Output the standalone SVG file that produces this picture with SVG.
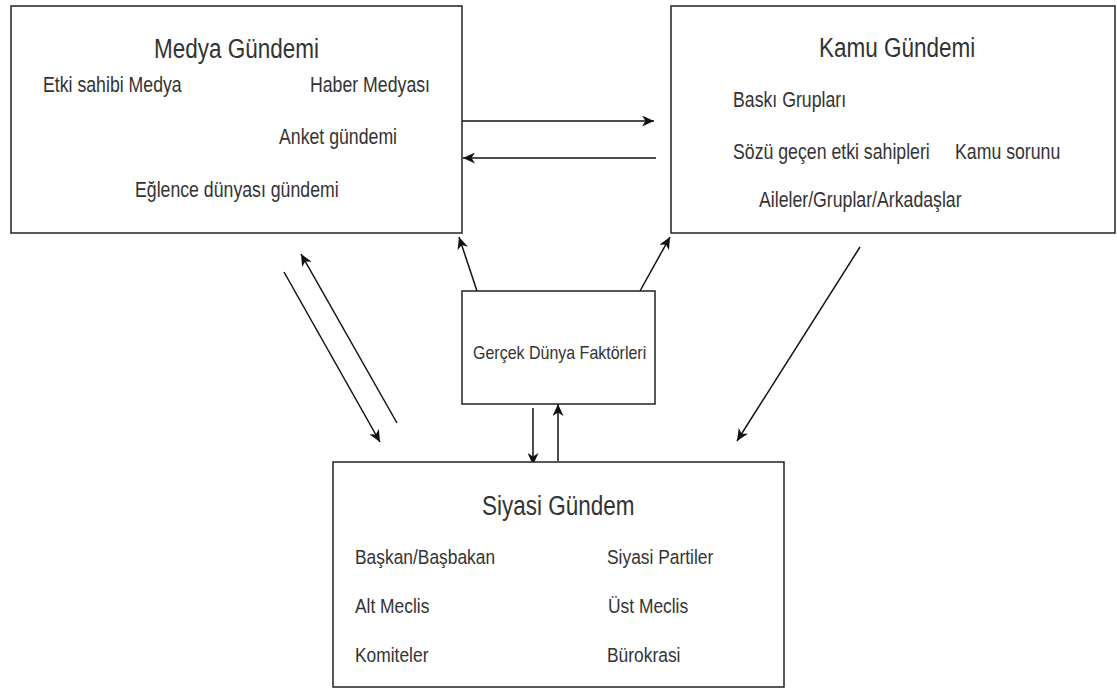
<svg xmlns="http://www.w3.org/2000/svg" width="1117" height="689" viewBox="0 0 1117 689">
<style>
.box{fill:#fff;stroke:#222;stroke-width:1.5}
.t{font-family:"Liberation Sans",Arial,sans-serif;fill:#333}
.title{font-size:22.5px}
.item{font-size:17.7px}
.sub{font-size:17.4px}
.small{font-size:16px}
.c{stroke:#111;stroke-width:1.5;fill:none;marker-end:url(#arr)}
</style>
<defs>
<marker id="arr" markerUnits="userSpaceOnUse" markerWidth="13" markerHeight="11" refX="12" refY="5.5" orient="auto">
<path d="M0,0 L12,5.5 L0,11 L3.5,5.5 z" fill="#111"/>
</marker>
</defs>
<rect width="1117" height="689" fill="#fff"/>
<g id="connectors">
<line class="c" x1="462" y1="121" x2="654" y2="121"/>
<line class="c" x1="656" y1="158" x2="463" y2="158"/>
<line class="c" x1="477" y1="291" x2="459" y2="237"/>
<line class="c" x1="640" y1="291" x2="670" y2="237"/>
<line class="c" x1="284" y1="272" x2="380" y2="442"/>
<line class="c" x1="397" y1="423" x2="301" y2="254"/>
<line class="c" x1="860" y1="247" x2="737" y2="441"/>
<line class="c" x1="533" y1="408" x2="533" y2="465"/>
<line class="c" x1="558" y1="461" x2="558" y2="404"/>
</g>
<g id="medya">
<rect class="box" x="11" y="6" width="451" height="227"/>
<text class="t title" transform="matrix(1,0,0,1.2,154,58)">Medya Gündemi</text>
<text class="t item" transform="matrix(1,0,0,1.2,43,92)">Etki sahibi Medya</text>
<text class="t item" transform="matrix(1,0,0,1.2,310,92)">Haber Medyası</text>
<text class="t item" transform="matrix(1,0,0,1.2,279,144)">Anket gündemi</text>
<text class="t item" transform="matrix(1,0,0,1.2,135,197)">Eğlence dünyası gündemi</text>
</g>
<g id="kamu">
<rect class="box" x="671" y="6" width="444" height="227"/>
<text class="t title" transform="matrix(1,0,0,1.2,819,57)">Kamu Gündemi</text>
<text class="t item" transform="matrix(1,0,0,1.2,733,107)">Baskı Grupları</text>
<text class="t item" transform="matrix(1,0,0,1.2,733,159)">Sözü geçen etki sahipleri</text>
<text class="t item" transform="matrix(1,0,0,1.2,955,159)">Kamu sorunu</text>
<text class="t item" transform="matrix(1,0,0,1.2,759,207)">Aileler/Gruplar/Arkadaşlar</text>
</g>
<g id="gercek">
<rect class="box" x="462" y="291" width="193" height="113"/>
<text class="t small" transform="matrix(1,0,0,1.2,473,359)">Gerçek Dünya Faktörleri</text>
</g>
<g id="siyasi">
<rect class="box" x="333" y="462" width="451" height="225"/>
<text class="t title" transform="matrix(1,0,0,1.2,482,515)">Siyasi Gündem</text>
<text class="t sub" transform="matrix(1,0,0,1.2,355,564)">Başkan/Başbakan</text>
<text class="t sub" transform="matrix(1,0,0,1.2,607,564)">Siyasi Partiler</text>
<text class="t sub" transform="matrix(1,0,0,1.2,355,613)">Alt Meclis</text>
<text class="t sub" transform="matrix(1,0,0,1.2,608,613)">Üst Meclis</text>
<text class="t sub" transform="matrix(1,0,0,1.2,355,662)">Komiteler</text>
<text class="t sub" transform="matrix(1,0,0,1.2,607,662)">Bürokrasi</text>
</g>
</svg>
